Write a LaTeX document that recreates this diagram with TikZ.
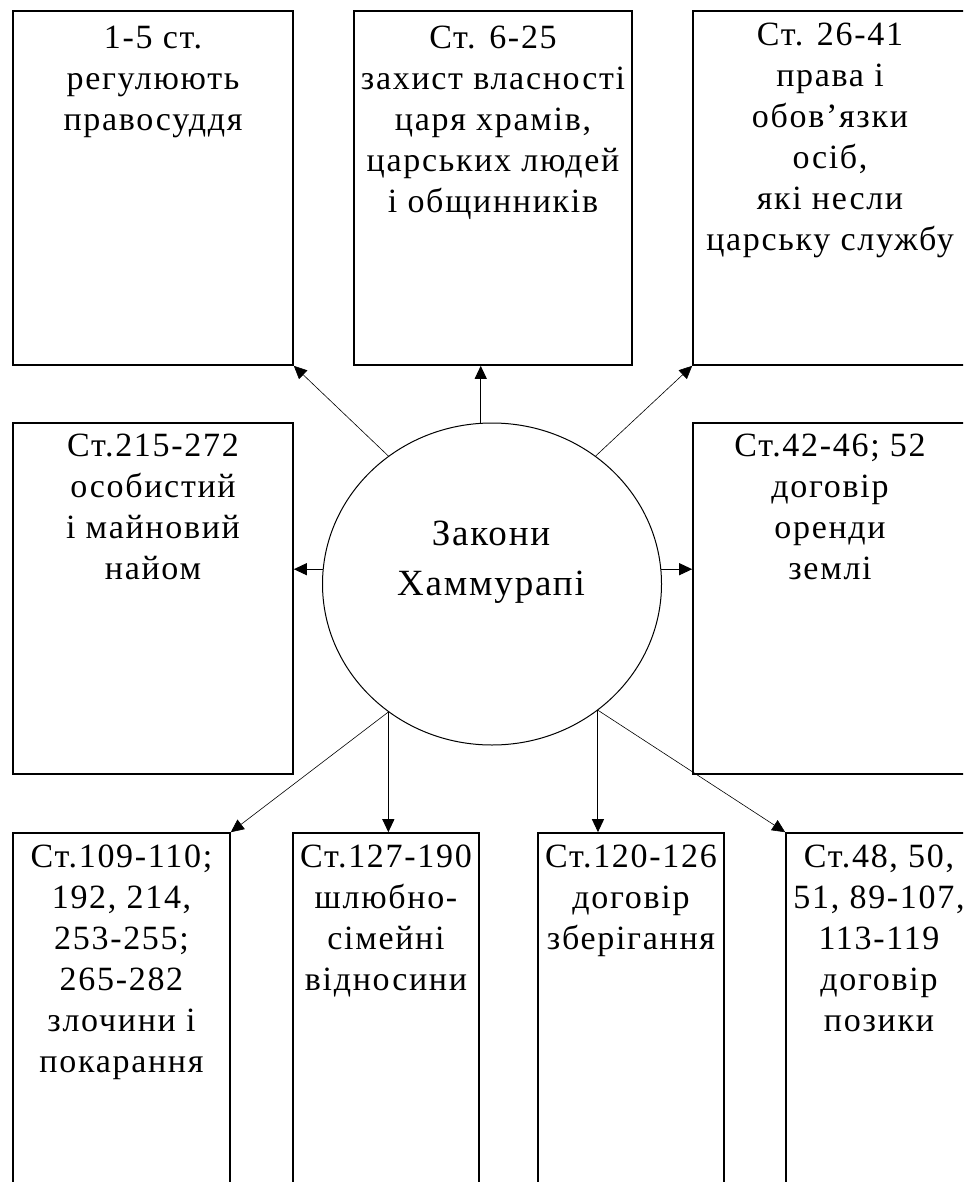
\documentclass[tikz,border=0pt]{standalone}
\usepackage{fontspec}
\setmainfont{Liberation Serif}[LetterSpace=5]
\usepackage{tikz}
\usetikzlibrary{shapes.geometric,arrows.meta}

\begin{document}
\begin{tikzpicture}[x=1pt,y=-1pt,
  box/.style={draw, line width=1.6pt, inner sep=0pt},
  txt/.style={anchor=north, align=center, inner sep=0pt, font=\fontsize{34}{41}\selectfont},
  law/.style={draw, ellipse, line width=1pt, minimum width=339pt, minimum height=322pt, inner sep=0pt},
  arr/.style={line width=1pt, -{Triangle[length=13pt,width=12pt]}},
  darr/.style={line width=0.6pt, -{Triangle[length=13pt,width=12pt]}}
]
\useasboundingbox (0,0) rectangle (963,1182);
\clip (0,0) rectangle (963,1182);

% top row
\node[box, minimum width=280pt, minimum height=354pt] (top1) at (153,188) {};
\node[box, minimum width=278pt, minimum height=354pt] (top2) at (493,188) {};
\node[box, minimum width=274pt, minimum height=354pt] (top3) at (830,188) {};
\node[txt] (top1t) at ([yshift=-16pt]top1.north) {1-5 ст.\\регулюють\\правосуддя};
\node[txt] (top2t) at ([yshift=-16pt]top2.north) {Ст. 6-25\\захист власності\\царя храмів,\\царських людей\\і общинників};
\node[txt] (top3t) at ([yshift=-13pt]top3.north) {Ст. 26-41\\права і\\обов’язки\\осіб,\\які несли\\царську службу};

% middle row
\node[box, minimum width=280pt, minimum height=351pt] (mid1) at (153,598.5) {};
\node[box, minimum width=274pt, minimum height=351pt] (mid2) at (830,598.5) {};
\node[txt] (mid1t) at ([yshift=-12pt]mid1.north) {Ст.215-272\\особистий\\і майновий\\найом};
\node[txt] (mid2t) at ([yshift=-12pt]mid2.north) {Ст.42-46; 52\\договір\\оренди\\землі};

% bottom row
\node[box, minimum width=217pt, minimum height=367pt] (bot1) at (121.5,1016.5) {};
\node[box, minimum width=186pt, minimum height=367pt] (bot2) at (386,1016.5) {};
\node[box, minimum width=186pt, minimum height=367pt] (bot3) at (631,1016.5) {};
\node[box, minimum width=186pt, minimum height=367pt] (bot4) at (879,1016.5) {};
\node[txt] (bot1t) at ([yshift=-12pt]bot1.north) {Ст.109-110;\\192, 214,\\253-255;\\265-282\\злочини і\\покарання};
\node[txt] (bot2t) at ([yshift=-12pt]bot2.north) {Ст.127-190\\шлюбно-\\сімейні\\відносини};
\node[txt] (bot3t) at ([yshift=-12pt]bot3.north) {Ст.120-126\\договір\\зберігання};
\node[txt] (bot4t) at ([yshift=-12pt]bot4.north) {Ст.48, 50,\\51, 89-107,\\113-119\\договір\\позики};

% centre
\node[law] (law) at (492,584) {};
\node[align=center, inner sep=0pt, font=\fontsize{37}{50}\selectfont] (lawt) at (491,562) {Закони\\Хаммурапі};

\draw[arr] (law.94) -- (law.94 |- top2.south);
\draw[darr] (law.129) -- (top1.south east);
\draw[darr] (law.51) -- (top3.south west);
\draw[arr] (law.175) -- (law.175 -| mid1.east);
\draw[arr] (law.5) -- (law.5 -| mid2.west);
\draw[arr] (law.231) -- (law.231 |- bot2.north);
\draw[darr] (law.231) -- (bot1.north east);
\draw[arr] (law.310) -- (law.310 |- bot3.north);
\draw[darr] (law.310) -- (bot4.north west);
\end{tikzpicture}
\end{document}
